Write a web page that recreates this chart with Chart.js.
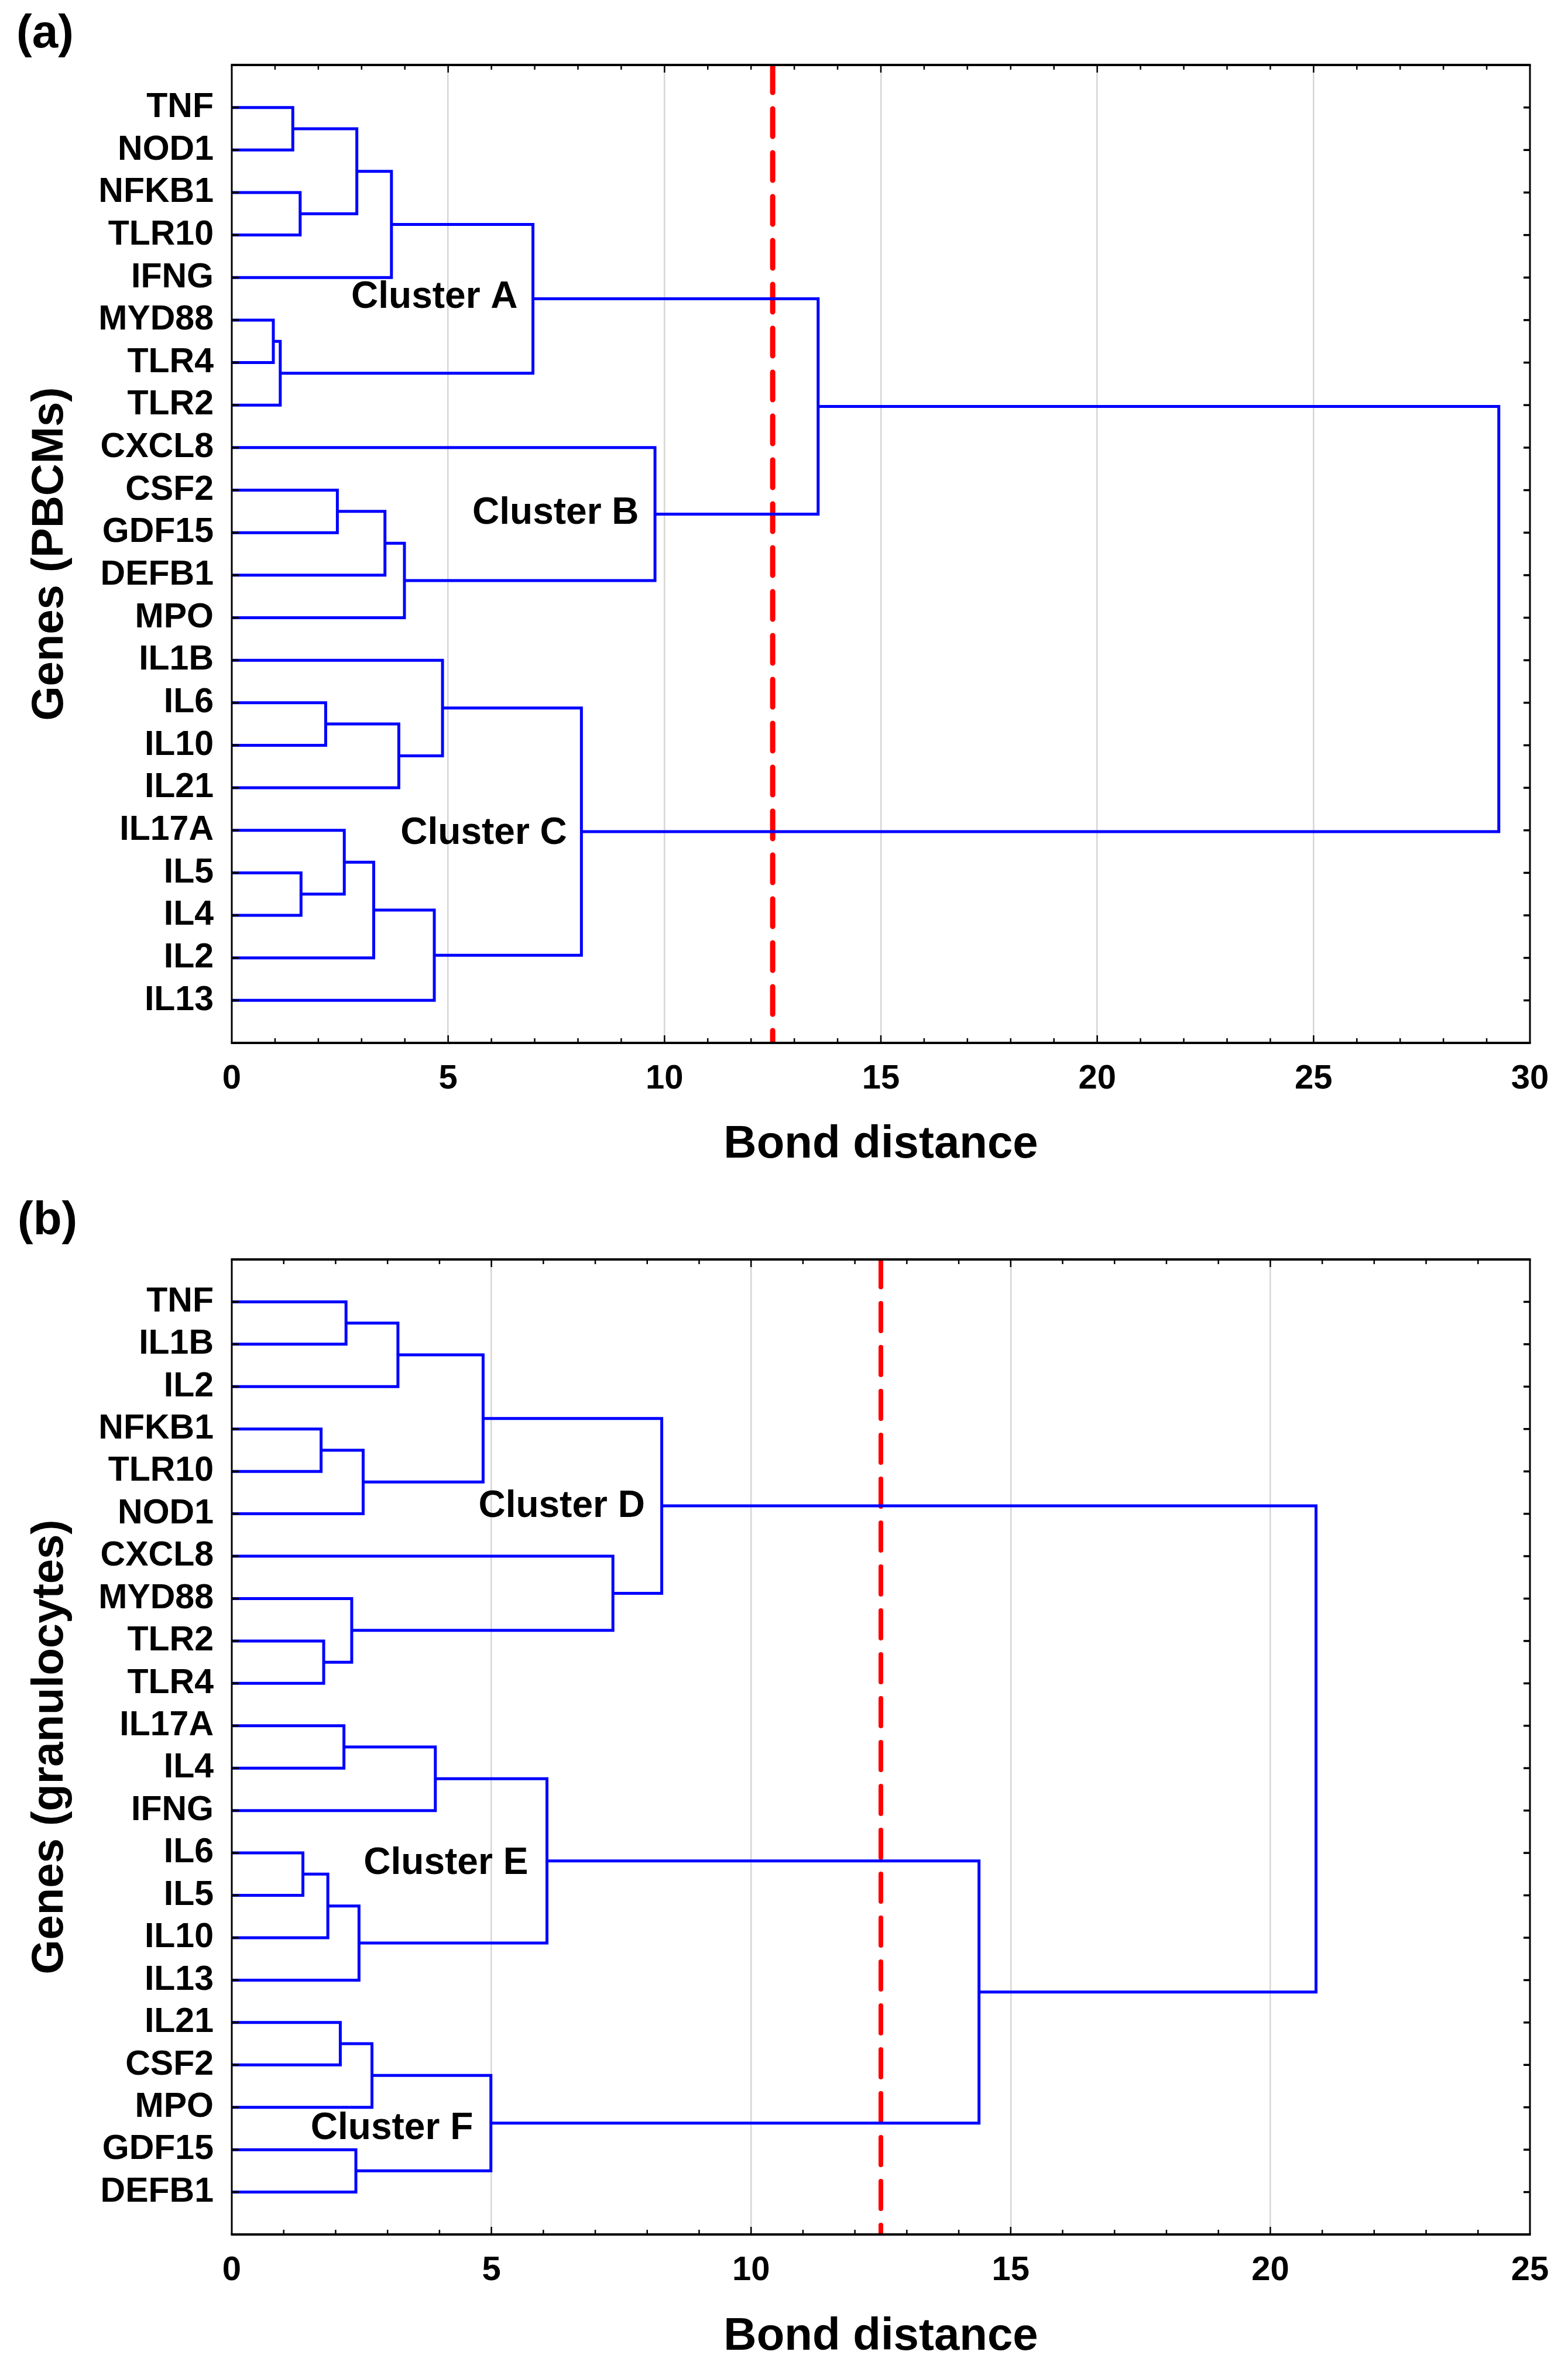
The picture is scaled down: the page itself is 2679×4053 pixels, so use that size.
<!DOCTYPE html>
<html>
<head>
<meta charset="utf-8">
<script src="https://cdn.jsdelivr.net/npm/chart.js@4.4.1/dist/chart.umd.min.js"></script>
<style>
  body { margin: 0; background: #fff; }
  #wrap { position: relative; width: 2679px; height: 4053px; }
  .box { position: absolute; left: 0; width: 2679px; }
  .tag { position: absolute; font: bold 80px 'Liberation Sans', Arial, sans-serif; line-height: 80px; color: #000; }
</style>
</head>
<body>
<div id="wrap">
  <div class="box" style="top:0;height:2040px"><canvas id="chartA"></canvas></div>
  <div class="box" style="top:2040px;height:2013px"><canvas id="chartB"></canvas></div>
  <div class="tag" style="left:28px;top:14px">(a)</div>
  <div class="tag" style="left:30px;top:2042px">(b)</div>
</div>
<script>
// leaf order, top to bottom
const genesA = ['TNF', 'NOD1', 'NFKB1', 'TLR10', 'IFNG', 'MYD88', 'TLR4', 'TLR2', 'CXCL8', 'CSF2', 'GDF15',
    'DEFB1', 'MPO', 'IL1B', 'IL6', 'IL10', 'IL21', 'IL17A', 'IL5', 'IL4', 'IL2', 'IL13'];
const genesB = ['TNF', 'IL1B', 'IL2', 'NFKB1', 'TLR10', 'NOD1', 'CXCL8', 'MYD88', 'TLR2', 'TLR4', 'IL17A',
    'IL4', 'IFNG', 'IL6', 'IL5', 'IL10', 'IL13', 'IL21', 'CSF2', 'MPO', 'GDF15', 'DEFB1'];

// joins: a string is a gene, a number is an earlier join (its index)
const joinsA = [['TNF', 'NOD1'], ['NFKB1', 'TLR10'], [0, 1], [2, 'IFNG'], ['MYD88', 'TLR4'], [4, 'TLR2'], [3, 5],
    ['CSF2', 'GDF15'], [7, 'DEFB1'], [8, 'MPO'], ['CXCL8', 9], [6, 10],
    ['IL6', 'IL10'], [12, 'IL21'], ['IL1B', 13], ['IL5', 'IL4'], ['IL17A', 15], [16, 'IL2'], [17, 'IL13'], [14, 18],
    [11, 19]];
const distA = [1.41, 1.58, 2.89, 3.69, 0.96, 1.12, 6.96,
    2.44, 3.54, 3.99, 9.78, 13.55,
    2.17, 3.86, 4.87, 1.60, 2.60, 3.28, 4.68, 8.08,
    29.28];

const joinsB = [['TNF', 'IL1B'], [0, 'IL2'], ['NFKB1', 'TLR10'], [2, 'NOD1'], [1, 3], ['TLR2', 'TLR4'], ['MYD88', 5],
    ['CXCL8', 6], [4, 7],
    ['IL17A', 'IL4'], [9, 'IFNG'], ['IL6', 'IL5'], [11, 'IL10'], [12, 'IL13'], [10, 13],
    ['IL21', 'CSF2'], [15, 'MPO'], ['GDF15', 'DEFB1'], [16, 17], [14, 18],
    [8, 19]];
const distB = [2.20, 3.20, 1.72, 2.53, 4.84, 1.77, 2.31,
    7.34, 8.28,
    2.16, 3.92, 1.37, 1.85, 2.45, 6.07,
    2.09, 2.70, 2.39, 4.99, 14.39,
    20.88];

const cutA = 12.5;
const cutB = 12.5;
const xTicksA = [0, 5, 10, 15, 20, 25, 30];
const xTicksB = [0, 5, 10, 15, 20, 25];

const FONT = "'Liberation Sans', Arial, sans-serif";
Chart.defaults.font.family = FONT;
Chart.defaults.color = '#000';

// turn the join table into U-shaped links
function buildLinks(genes, joins, dist) {
    const nodes = [];
    const get = r => typeof r === 'number' ? nodes[r] : {x: 0, y: genes.indexOf(r)};
    return joins.map((pair, k) => {
        const a = get(pair[0]);
        const b = get(pair[1]);
        const h = dist[k];
        nodes.push({x: h, y: (a.y + b.y) / 2});
        return [{x: a.x, y: a.y}, {x: h, y: a.y}, {x: h, y: b.y}, {x: b.x, y: b.y}];
    });
}

// frame, inward ticks and cluster names
const decor = {
    id: 'decor',
    afterDatasetsDraw(chart, args, opts) {
        const {ctx, chartArea: a, scales: {x, y}} = chart;
        const seg = (x1, y1, x2, y2) => { ctx.beginPath(); ctx.moveTo(x1, y1); ctx.lineTo(x2, y2); ctx.stroke(); };
        ctx.save();
        ctx.strokeStyle = '#000';
        ctx.lineWidth = 2.5;
        for (let v = 1; v < x.max; v++) {
            const px = x.getPixelForValue(v);
            const len = v % 5 === 0 ? 13 : 8;
            seg(px, a.top, px, a.top + len);
            seg(px, a.bottom, px, a.bottom - len);
        }
        ctx.lineWidth = 3.5;
        y.ticks.forEach(t => {
            const py = y.getPixelForValue(t.value);
            seg(a.left, py, a.left + 12, py);
            seg(a.right, py, a.right - 11, py);
        });
        ctx.lineWidth = 4;
        seg(a.left - 1.5, a.top, a.right + 1.5, a.top);
        seg(a.left - 1.5, a.bottom, a.right + 1.5, a.bottom);
        ctx.lineWidth = 3;
        seg(a.left, a.top, a.left, a.bottom);
        seg(a.right, a.top, a.right, a.bottom);

        ctx.fillStyle = '#000';
        ctx.font = 'bold 64px ' + FONT;
        ctx.textAlign = 'left';
        ctx.textBaseline = 'middle';
        opts.labels.forEach(l => ctx.fillText(l.text, x.getPixelForValue(l.x), y.getPixelForValue(l.y)));
        ctx.restore();
    }
};

function makeChart(id, genes, joins, dist, cut, xTicks, cfg) {
    const xMax = xTicks[xTicks.length - 1];
    const links = buildLinks(genes, joins, dist).map(pts => ({
        data: pts,
        showLine: true,
        borderColor: '#0000ff',
        borderWidth: 5,
        borderJoinStyle: 'miter',
        pointRadius: 0,
        order: 0
    }));
    // cut line sits under the tree
    links.push({
        data: [{x: cut, y: -1}, {x: cut, y: genes.length}],
        showLine: true,
        borderColor: '#ff0000',
        borderWidth: cfg.cutWidth,
        borderDash: [47, 28],
        borderCapStyle: 'round',
        pointRadius: 0,
        order: 1
    });

    return new Chart(document.getElementById(id), {
        type: 'scatter',
        data: {datasets: links},
        plugins: [decor],
        options: {
            responsive: true,
            maintainAspectRatio: false,
            devicePixelRatio: 1,
            animation: false,
            layout: {padding: {top: cfg.top, right: 65, left: 0, bottom: 0}},
            plugins: {
                legend: {display: false},
                tooltip: {enabled: false},
                decor: {labels: cfg.labels}
            },
            scales: {
                x: {
                    type: 'linear',
                    min: 0,
                    max: xMax,
                    afterBuildTicks: s => { s.ticks = xTicks.map(v => ({value: v})); },
                    afterFit: s => { s.height = cfg.xHeight; },
                    ticks: {font: {size: 58, weight: 'bold', lineHeight: 1.2}, padding: 27, maxRotation: 0},
                    grid: {
                        drawTicks: false,
                        lineWidth: 2.5,
                        color: c => (c.tick && c.tick.value > 0 && c.tick.value < xMax) ? '#d6d6d6' : 'rgba(0,0,0,0)'
                    },
                    border: {display: false},
                    title: {
                        display: true,
                        text: 'Bond distance',
                        font: {size: 78, weight: 'bold', lineHeight: 1.2},
                        padding: {top: 0, bottom: cfg.titlePad}
                    }
                },
                y: {
                    type: 'linear',
                    min: -1,
                    max: genes.length,
                    reverse: true,
                    afterBuildTicks: s => { s.ticks = genes.map((g, i) => ({value: i})); },
                    afterFit: s => { s.width = 396; },
                    ticks: {
                        autoSkip: false,
                        font: {size: 59, weight: 'bold', lineHeight: 1.2},
                        padding: 31,
                        callback: v => genes[v]
                    },
                    grid: {display: false, drawTicks: false},
                    border: {display: false},
                    title: {
                        display: true,
                        text: cfg.yTitle,
                        font: {size: 76, weight: 'bold', lineHeight: 1.2},
                        padding: {top: 40, bottom: 0}
                    }
                }
            }
        }
    });
}

makeChart('chartA', genesA, joinsA, distA, cutA, xTicksA, {
    top: 111, xHeight: 258, titlePad: 37, cutWidth: 9, yTitle: 'Genes (PBCMs)',
    labels: [
        {text: 'Cluster A', x: 2.76, y: 4.47},
        {text: 'Cluster B', x: 5.56, y: 9.55},
        {text: 'Cluster C', x: 3.9, y: 17.08}
    ]
});

makeChart('chartB', genesB, joinsB, distB, cutB, xTicksB, {
    top: 112, xHeight: 235, titlePad: 13, cutWidth: 8, yTitle: 'Genes (granulocytes)',
    labels: [
        {text: 'Cluster D', x: 4.75, y: 4.83},
        {text: 'Cluster E', x: 2.54, y: 13.25},
        {text: 'Cluster F', x: 1.52, y: 19.51}
    ]
});
</script>
</body>
</html>
